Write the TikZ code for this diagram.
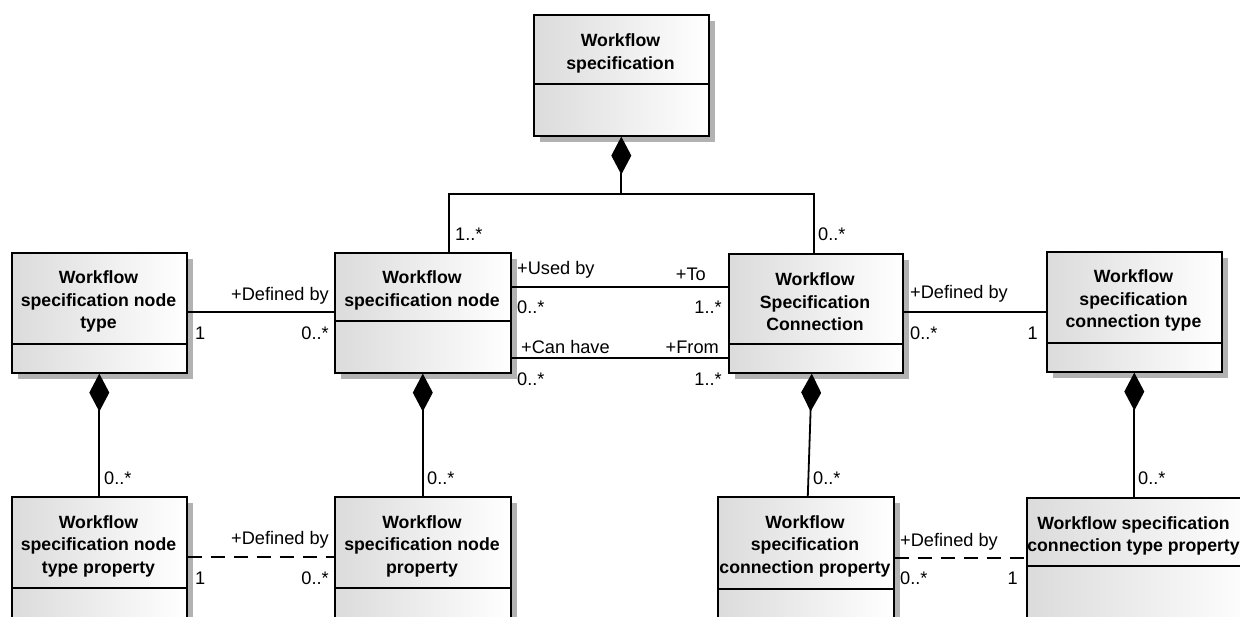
\documentclass[tikz,border=0pt]{standalone}
\usepackage{fontspec}
\setmainfont{Liberation Sans}
\usetikzlibrary{arrows.meta,shadows}
\tikzset{
 cls/.style={draw=black, line width=1.6pt, left color=black!14, right color=white,
   drop shadow={shadow xshift=6pt, shadow yshift=-6pt, fill=black!30, opacity=1},
   inner sep=0pt, anchor=north west},
 ttl/.style={font=\bfseries\fontsize{17.7}{22.5}\selectfont, align=center, inner sep=0pt},
 lbl/.style={font=\fontsize{18.2}{21}\selectfont, inner sep=0pt},
 conn/.style={line width=1.8pt},
 comp/.style={line width=1.8pt, {Diamond[length=38pt,width=20pt]}-},
 dline/.style={line width=1.8pt, dash pattern=on 14pt off 9pt},
 divl/.style={line width=1.6pt}
}
\begin{document}
\begin{tikzpicture}[x=1pt,y=-1pt]
\useasboundingbox (0,0) rectangle (1240,616);
\clip (0,0) rectangle (1240,616);
% classes
\node[cls, minimum width=175pt, minimum height=121pt] (ws) at (533,14) {};
\node[cls, minimum width=175pt, minimum height=120pt] (nt) at (11,252) {};
\node[cls, minimum width=176pt, minimum height=120pt] (sn) at (334,252) {};
\node[cls, minimum width=174pt, minimum height=119pt] (sc) at (728,253) {};
\node[cls, minimum width=175pt, minimum height=120pt] (ct) at (1046,251) {};
\node[cls, minimum width=175pt, minimum height=160pt] (ntp) at (11,496) {};
\node[cls, minimum width=176pt, minimum height=160pt] (np) at (334,496) {};
\node[cls, minimum width=176pt, minimum height=160pt] (cp) at (717,496) {};
\node[cls, minimum width=230pt, minimum height=160pt] (ctp) at (1026,497) {};
% dividers
\draw[divl] (ws.west |- 0,84) -- (ws.east |- 0,84);
\draw[divl] (nt.west |- 0,344) -- (nt.east |- 0,344);
\draw[divl] (sn.west |- 0,321) -- (sn.east |- 0,321);
\draw[divl] (sc.west |- 0,344) -- (sc.east |- 0,344);
\draw[divl] (ct.west |- 0,343) -- (ct.east |- 0,343);
\draw[divl] (ntp.west |- 0,588) -- (ntp.east |- 0,588);
\draw[divl] (np.west |- 0,588) -- (np.east |- 0,588);
\draw[divl] (cp.west |- 0,589) -- (cp.east |- 0,589);
\draw[divl] (ctp.west |- 0,566) -- (ctp.east |- 0,566);
% titles
\node[ttl] (ws-t) at (620.5,53.5) {Workflow\\specification};
\node[ttl] (nt-t) at (98.5,301.5) {Workflow\\specification node\\type};
\node[ttl] (sn-t) at (422,290.5) {Workflow\\specification node};
\node[ttl] (sc-t) at (815,302) {Workflow\\Specification\\Connection};
\node[ttl] (ct-t) at (1133.5,300.5) {Workflow\\specification\\connection type};
\node[ttl] (ntp-t) at (98.5,546) {Workflow\\specification node\\type property};
\node[ttl] (np-t) at (422,546) {Workflow\\specification node\\property};
\node[ttl] (cp-t) at (805,546) {Workflow\\specification\\connection property};
\node[ttl] (ctp-t) at (1133.5,536) {Workflow specification\\connection type property};
% connectors
\draw[comp] (ws.south) -- (ws.south |- 0,194);
\draw[conn] ([xshift=26pt]sn.north) |- (ws.south |- 0,194) -| ([xshift=-2pt]sc.north);
\draw[conn] (nt.east |- 0,312) -- (sn.west |- 0,312);
\draw[conn] (sn.east |- 0,287) -- (sc.west |- 0,287);
\draw[conn] (sn.east |- 0,358) -- (sc.west |- 0,358);
\draw[conn] (sc.east |- 0,312) -- (ct.west |- 0,312);
\draw[comp] (nt.south) -- (ntp.north);
\draw[comp] (sn.south) -- (np.north);
\draw[comp] ([xshift=-4pt]sc.south) -- ([xshift=2pt]cp.north);
\draw[comp] (ct.south) -- (ct.south |- ctp.north);
\draw[dline] (ntp.east |- 0,557) -- (np.west |- 0,557);
\draw[dline] (cp.east |- 0,558) -- (ctp.west |- 0,558);
% labels
\node[lbl, anchor=base west] (m1) at (455,240) {1..*};
\node[lbl, anchor=base west] (m2) at (818,240) {0..*};
\node[lbl, anchor=base east] (r1) at (329,300) {+Defined by};
\node[lbl, anchor=base west] (m3) at (195,339) {1};
\node[lbl, anchor=base east] (m4) at (329,339) {0..*};
\node[lbl, anchor=base west] (r2) at (517,274) {+Used by};
\node[lbl, anchor=base east] (r3) at (706,280) {+To};
\node[lbl, anchor=base west] (m5) at (517,313) {0..*};
\node[lbl, anchor=base east] (m6) at (722,313) {1..*};
\node[lbl, anchor=base west] (r4) at (521,353) {+Can have};
\node[lbl, anchor=base east] (r5) at (719,353) {+From};
\node[lbl, anchor=base west] (m7) at (517,385) {0..*};
\node[lbl, anchor=base east] (m8) at (722,385) {1..*};
\node[lbl, anchor=base west] (r6) at (910,298) {+Defined by};
\node[lbl, anchor=base west] (m9) at (910,339) {0..*};
\node[lbl, anchor=base east] (m10) at (1038,339) {1};
\node[lbl, anchor=base west] (m11) at (104,484) {0..*};
\node[lbl, anchor=base west] (m12) at (427,484) {0..*};
\node[lbl, anchor=base west] (m13) at (813,484) {0..*};
\node[lbl, anchor=base west] (m14) at (1138,484) {0..*};
\node[lbl, anchor=base east] (r7) at (329,544) {+Defined by};
\node[lbl, anchor=base west] (m15) at (195,584) {1};
\node[lbl, anchor=base east] (m16) at (329,584) {0..*};
\node[lbl, anchor=base west] (r8) at (900,546) {+Defined by};
\node[lbl, anchor=base west] (m17) at (900,584) {0..*};
\node[lbl, anchor=base east] (m18) at (1018,584) {1};
\end{tikzpicture}
\end{document}
